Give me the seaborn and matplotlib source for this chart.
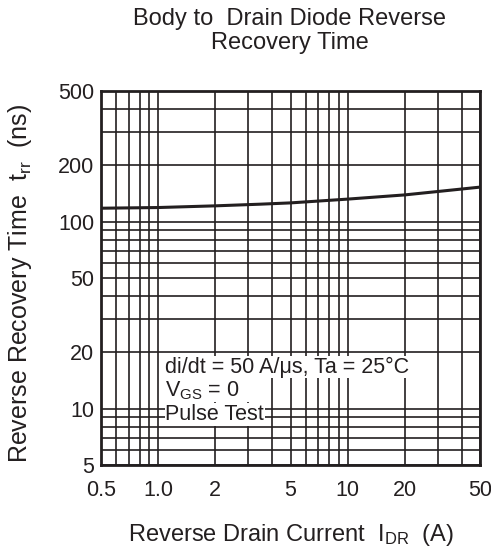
import numpy as np
import pandas as pd
import seaborn as sns
import matplotlib.pyplot as plt
from matplotlib.ticker import FixedLocator, NullFormatter

# curve
current = [0.5, 1.0, 2.0, 3.45, 5.0, 10.0, 20.0, 30.0, 50.0]
trr = [118, 119, 121.5, 124, 126, 132, 139, 145, 153]

x_major = [0.5, 1, 2, 5, 10, 20, 50]
x_labels = ["0.5", "1.0", "2", "5", "10", "20", "50"]
x_minor = [0.6, 0.7, 0.8, 0.9, 3, 4, 6, 7, 8, 9, 30, 40]
y_major = [5, 10, 20, 50, 100, 200, 500]
y_labels = ["5", "10", "20", "50", "100", "200", "500"]
y_minor = [6, 7, 8, 9, 30, 40, 60, 70, 80, 90, 300, 400]

ink = "#231f20"

sns.set_style("white")
plt.rcParams['font.family'] = ['Liberation Sans', 'DejaVu Sans']
plt.rcParams['mathtext.fontset'] = 'custom'
plt.rcParams['mathtext.rm'] = 'Liberation Sans'
plt.rcParams['mathtext.it'] = 'Liberation Sans'

df = pd.DataFrame({"I_DR": current, "trr": trr})

fig = plt.figure(figsize=(4.91, 5.51), dpi=100)
ax = fig.add_axes([0.2057, 0.156, 0.772, 0.679])

sns.lineplot(data=df, x="I_DR", y="trr", ax=ax, color=ink, lw=2.2, zorder=5)

ax.set_xscale("log")
ax.set_yscale("log")
ax.set_xlim(0.5, 50)
ax.set_ylim(5, 500)

ax.xaxis.set_major_locator(FixedLocator(x_major))
ax.xaxis.set_minor_locator(FixedLocator(x_minor))
ax.yaxis.set_major_locator(FixedLocator(y_major))
ax.yaxis.set_minor_locator(FixedLocator(y_minor))
ax.set_xticklabels(x_labels)
ax.set_yticklabels(y_labels)
ax.xaxis.set_minor_formatter(NullFormatter())
ax.yaxis.set_minor_formatter(NullFormatter())
ax.tick_params(which="both", length=0, labelsize=15.5, labelcolor=ink)
ax.tick_params(axis="x", pad=11)
ax.tick_params(axis="y", pad=5)

ax.grid(which="both", color=ink, lw=1.2, zorder=1)
for s in ax.spines.values():
    s.set_color(ink)
    s.set_linewidth(2)

ax.set_xlabel(r"Reverse Drain Current  I$_{\mathrm{DR}}$  (A)", fontsize=17, color=ink, labelpad=15)
ax.set_ylabel(r"Reverse Recovery Time  t$_{\mathrm{rr}}$  (ns)", fontsize=18, color=ink)
ax.yaxis.set_label_coords(-0.178, 0.485)

fig.text(0.59, 0.985, "Body to  Drain Diode Reverse\nRecovery Time", ha="center", va="top",
         fontsize=17, color=ink, linespacing=1.08)

box = dict(facecolor="white", edgecolor="none", pad=0.5)
ax.text(0.17, 0.262, "di/dt = 50 A/\u03bcs, Ta = 25\u00b0C", transform=ax.transAxes, fontsize=15.5,
        color=ink, va="center", ha="left", bbox=box, zorder=4)
ax.text(0.17, 0.200, r"V$_{\mathrm{GS}}$ = 0   ", transform=ax.transAxes, fontsize=15.5,
        color=ink, va="center", ha="left", bbox=box, zorder=4)
ax.text(0.17, 0.135, "Pulse Test", transform=ax.transAxes, fontsize=15.5,
        color=ink, va="center", ha="left", bbox=box, zorder=4)

fig.savefig("out.png", dpi=100)
